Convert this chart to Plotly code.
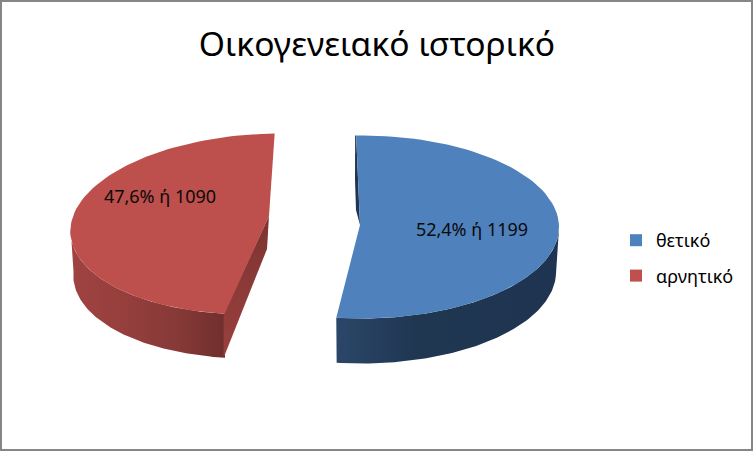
import numpy as np
import plotly.graph_objects as go

title = "Οικογενειακό ιστορικό"
categories = ["θετικό", "αρνητικό"]
counts = [1199, 1090]
top_colors = ["#4f81bd", "#bd4f4c"]
legend_colors = ["#4f81bd", "#c0504d"]

total = sum(counts)
shares = [c / total for c in counts]
labels = [f"{s*100:.1f}".replace(".", ",") + f"% ή {c}" for s, c in zip(shares, counts)]
spans = [s * 360 for s in shares]

# layout of the drawn pie in canvas units
START = -1.4
blue = dict(cx=361, cy=227, a=198, b=91.5, k=0.0, ax=360, ay=225, depth=45)
red = dict(cx=264, cy=224, a=193, b=90.5, k=-0.17, ax=269, ay=216, depth=44)


def rim(g, t0, t1, depth=0.0, shrink=1.0):
    t = np.radians(np.linspace(t0, t1, 90))
    yy = -g["b"] * np.cos(t)
    xx = g["a"] * shrink * np.sin(t) + g["k"] * yy
    return g["cx"] + xx, g["cy"] + yy + depth


def side(g, t0, t1, colors, name):
    x0, y0 = rim(g, t0, t1)
    x1, y1 = rim(g, t0, t1, g["depth"], 0.985)
    xs = list(x0) + list(x1[::-1]) + [x0[0]]
    ys = list(y0) + list(y1[::-1]) + [y0[0]]
    return go.Scatter(
        x=xs, y=ys, mode="lines", line=dict(width=0), fill="toself",
        fillgradient=dict(type="horizontal", colorscale=colors),
        showlegend=False, hoverinfo="skip", name=name,
    )


fig = go.Figure()

t_b0, t_b1 = START, START + spans[0]
t_r0, t_r1 = t_b1, t_b1 + spans[1]

# blue slice
xs, ys = rim(blue, t_b0, t_b1)
fig.add_trace(go.Scatter(
    x=[xs[0] - 1, blue["ax"] - 5, blue["ax"] - 4, blue["ax"], xs[0]],
    y=[ys[0], blue["ay"] - 45, blue["ay"] - 15, blue["ay"], ys[0]],
    mode="lines", line=dict(width=0), fill="toself", fillcolor="#1f3552",
    showlegend=False, hoverinfo="skip"))
fig.add_trace(side(blue, 92, t_b1, [[0, "#2b4669"], [0.35, "#203752"], [1, "#1e3450"]], "blue side"))
fig.add_trace(go.Scatter(
    x=[blue["ax"]] + list(xs) + [blue["ax"]], y=[blue["ay"]] + list(ys) + [blue["ay"]],
    mode="lines", line=dict(width=0), fill="toself", fillcolor=top_colors[0],
    showlegend=False, hoverinfo="skip"))

# red slice
xr, yr = rim(red, t_r0, t_r1)
fig.add_trace(side(red, t_r0, 268, [[0, "#a04341"], [0.35, "#953f3d"], [0.7, "#863937"], [1, "#6f2f2d"]], "red side"))
fig.add_trace(go.Scatter(
    x=[xr[0] - 1, xr[0] - 1, red["ax"] - 2, red["ax"]],
    y=[yr[0], yr[0] + red["depth"], red["ay"] + 33, red["ay"]],
    mode="lines", line=dict(width=0), fill="toself",
    fillgradient=dict(type="vertical", colorscale=[[0, "#9a403e"], [1, "#7c3432"]]),
    showlegend=False, hoverinfo="skip"))
fig.add_trace(go.Scatter(
    x=[red["ax"]] + list(xr) + [red["ax"]], y=[red["ay"]] + list(yr) + [red["ay"]],
    mode="lines", line=dict(width=0), fill="toself", fillcolor=top_colors[1],
    showlegend=False, hoverinfo="skip"))

# data labels
fig.add_trace(go.Scatter(
    x=[472, 160], y=[231, 198], mode="text", text=labels,
    textposition="middle center",
    textfont=dict(family="Noto Sans", size=18, color="#0a0a0a"),
    showlegend=False, hoverinfo="skip"))

# legend entries
for i, (cat, col) in enumerate(zip(categories, legend_colors)):
    fig.add_trace(go.Scatter(
        x=[None], y=[None], mode="markers", name=cat, legendgroup=cat,
        marker=dict(symbol="square", size=12, color=col)))

fig.update_layout(
    width=753, height=451, margin=dict(l=0, r=0, t=0, b=0),
    paper_bgcolor="white", plot_bgcolor="white",
    xaxis=dict(range=[0, 753], visible=False, fixedrange=True),
    yaxis=dict(range=[451, 0], visible=False, fixedrange=True),
    title=dict(text=title, x=377 / 753, y=1 - 44 / 451, xanchor="center", yanchor="middle",
               font=dict(family="Noto Sans", size=33.6, color="black")),
    legend=dict(x=616 / 753, y=1 - 222 / 451, xanchor="left", yanchor="top",
                font=dict(family="Noto Sans", size=18, color="black"),
                tracegroupgap=9, itemwidth=30, bgcolor="rgba(0,0,0,0)"),
    shapes=[dict(type="rect", xref="paper", yref="paper", x0=0, x1=1, y0=0, y1=1,
                 line=dict(color="#868686", width=4), fillcolor="rgba(0,0,0,0)")],
)

fig.write_html("out.html", config={"displayModeBar": False},
               post_script="document.body.style.margin='0';document.documentElement.style.overflow='hidden';")
